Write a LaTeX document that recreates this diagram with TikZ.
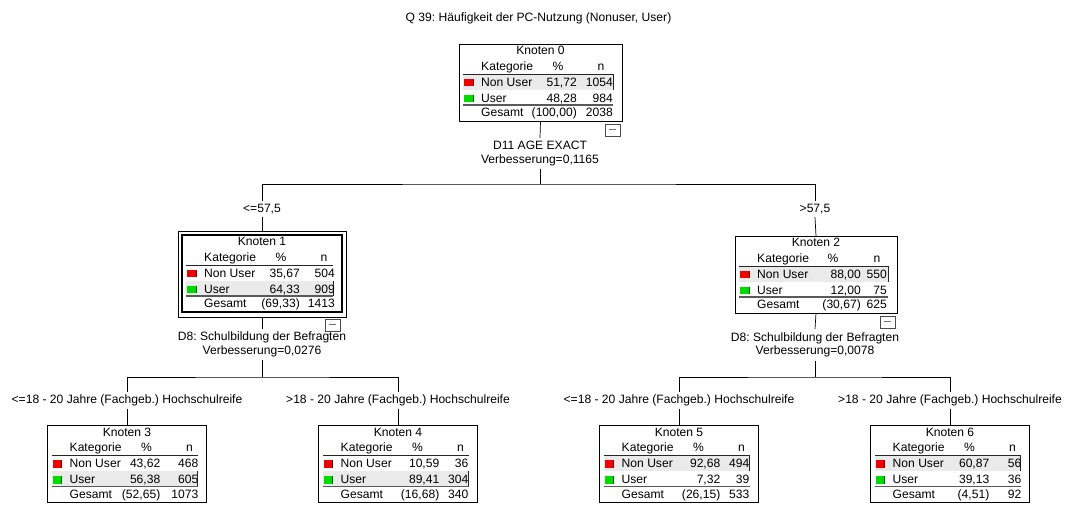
\documentclass[tikz,border=0pt]{standalone}
\usepackage{fontspec}
\setmainfont{Liberation Sans}
\frenchspacing
\definecolor{nured}{RGB}{240,0,0}
\definecolor{ugreen}{RGB}{0,220,0}
\definecolor{rowgray}{RGB}{234,234,234}
\tikzset{
  every node/.style={font=\fontsize{12.1}{13.3}\selectfont\frenchspacing, inner sep=0pt},
  box/.style={draw=black, line width=0.7pt, inner sep=0pt, outer sep=0pt},
  cell/.style={anchor=base west, inner sep=0pt},
  cellr/.style={anchor=base east, inner sep=0pt},
  cellc/.style={anchor=base, inner sep=0pt},
  ruleone/.style={draw=black!85, line width=0.7pt},
  ruletwo/.style={draw=black!65, line width=1.2pt},
  conn/.style={draw=black, line width=0.7pt},
  elabel/.style={anchor=base, text height=8.6pt, text depth=2.5pt, inner sep=2.5pt},
  slabel/.style={align=center, inner sep=3.5pt},
  minusbox/.style={draw=black!70, line width=0.5pt, fill=white, minimum width=15pt, minimum height=12pt, inner sep=0pt, anchor=north east},
}
% #1 left, #2 top, #3 number, #4 NU%, #5 NUn, #6 U%, #7 Un, #8 Ges%, #9 Gesn
\newcommand\knoten[9]{%
  \node[box, minimum width=\kW pt, minimum height=77pt, anchor=north west] (k#3) at (#1,#2) {};
  \ifnum\kS=1
    \fill[rowgray] ({#1+4},{#2+30}) rectangle ({#1+\kW-9},{#2+45.5});
    \draw[ruleone] ({#1+\kW-9},{#2+30}) -- ({#1+\kW-9},{#2+45.5});
  \else
    \fill[rowgray] ({#1+4},{#2+45.5}) rectangle ({#1+\kW-9},{#2+61});
    \draw[ruleone] ({#1+\kW-9},{#2+45.5}) -- ({#1+\kW-9},{#2+61});
  \fi
  \draw[ruleone] ({#1+4},{#2+30}) -- ({#1+\kW-9},{#2+30});
  \draw[ruletwo] ({#1+4},{#2+61}) -- ({#1+\kW-9},{#2+61});
  \fill[nured] ({#1+5},{#2+34.5}) rectangle ({#1+14},{#2+42});
  \draw[red!50!black, line width=0.6pt] ({#1+14},{#2+34.5}) -- ({#1+14},{#2+42});
  \fill[ugreen] ({#1+5},{#2+50.5}) rectangle ({#1+14},{#2+58});
  \draw[green!40!black, line width=0.6pt] ({#1+14},{#2+50.5}) -- ({#1+14},{#2+58});
  \node[cellc] (k#3t) at ({#1+\kW/2},{#2+10.5}) {Knoten #3};
  \node[cell] (k#3h) at ({#1+22},{#2+26}) {Kategorie};
  \node[cellc] (k#3hp) at ({#1+\kHp},{#2+26}) {\%};
  \node[cellc] (k#3hn) at ({#1+142},{#2+26}) {n};
  \node[cell] (k#3a) at ({#1+22},{#2+42.2}) {Non User};
  \node[cellr] (k#3ap) at ({#1+\kP},{#2+42.2}) {#4};
  \node[cellr] (k#3an) at ({#1+\kN},{#2+42.2}) {#5};
  \node[cell] (k#3b) at ({#1+22},{#2+58}) {User};
  \node[cellr] (k#3bp) at ({#1+\kP},{#2+58}) {#6};
  \node[cellr] (k#3bn) at ({#1+\kN},{#2+58}) {#7};
  \node[cell] (k#3g) at ({#1+22},{#2+72.5}) {Gesamt};
  \node[cellr] (k#3gp) at ({#1+\kP},{#2+72.5}) {#8};
  \node[cellr] (k#3gn) at ({#1+\kN},{#2+72.5}) {#9};
  \ifnum\kMinus=1
    \node[minusbox] (k#3m) at ({#1+\kW-2},{#2+\kM}) {};
    \draw[black!55, line width=0.8pt] ({#1+\kW-13},{#2+\kM+6}) -- ({#1+\kW-6},{#2+\kM+6});
  \fi
}
\begin{document}
\begin{tikzpicture}[x=1pt,y=-1pt]
\useasboundingbox (0,0) rectangle (1073,506);
\node[cellc] (ttl) at (538.5,21) {Q 39: Häufigkeit der PC-Nutzung (Nonuser, User)};

% nodes
\def\kMinus{1}\def\kHp{99}
\def\kW{163}\def\kP{118}\def\kN{154}\def\kS{1}\def\kM{79.5}
\knoten{459}{44}{0}{51,72}{1054}{48,28}{984}{(100,00)}{2038}
\node[box, minimum width=168pt, minimum height=86pt, anchor=north west] (k1o) at (178,231) {};
\def\kW{160}\def\kP{118}\def\kN{153}\def\kS{2}\def\kM{83.5}
\knoten{182}{235}{1}{35,67}{504}{64,33}{909}{(69,33)}{1413}
\draw[line width=1.6pt] (k1.north west) rectangle (k1.south east);
\def\kW{162}\def\kP{126}\def\kN{152}\def\kS{1}\def\kM{79.5}\def\kHp{98}
\knoten{735}{236}{2}{88,00}{550}{12,00}{75}{(30,67)}{625}
\def\kMinus{0}\def\kHp{99}\def\kW{159}
\def\kP{113}\def\kN{151}\def\kS{2}
\knoten{47.5}{425.5}{3}{43,62}{468}{56,38}{605}{(52,65)}{1073}
\def\kP{121}\def\kN{150}\def\kS{2}
\knoten{318.5}{425.5}{4}{10,59}{36}{89,41}{304}{(16,68)}{340}
\def\kP{121}\def\kN{150}\def\kS{1}
\knoten{599.5}{425.5}{5}{92,68}{494}{7,32}{39}{(26,15)}{533}
\def\kP{119}\def\kN{151}\def\kS{1}
\knoten{870.5}{425.5}{6}{60,87}{56}{39,13}{36}{(4,51)}{92}

% split labels
\node[slabel] (s0) at (540,153.6) {D11 AGE EXACT\\Verbesserung=0,1165};
\node[slabel] (s1) at (262,344.5) {D8: Schulbildung der Befragten\\Verbesserung=0,0276};
\node[slabel] (s2) at (815,345) {D8: Schulbildung der Befragten\\Verbesserung=0,0078};
\coordinate (h0) at (540,184);
\coordinate (h1) at (262,377);
\coordinate (h2) at (815,377);

% edge labels
\node[elabel] (e1) at (262,212) {<=57,5};
\node[elabel] (e2) at (815,212) {>57,5};
\node[elabel] (e3) at (127,403.3) {<=18 - 20 Jahre (Fachgeb.) Hochschulreife};
\node[elabel] (e4) at (398,403.3) {>18 - 20 Jahre (Fachgeb.) Hochschulreife};
\node[elabel] (e5) at (679,403.3) {<=18 - 20 Jahre (Fachgeb.) Hochschulreife};
\node[elabel] (e6) at (950,403.3) {>18 - 20 Jahre (Fachgeb.) Hochschulreife};

% connectors
\draw[conn] (k0.south) -- (s0.north);
\draw[conn] (s0.south) -- (h0);
\draw[conn] (e1.north) |- (h0) -| (e2.north);
\draw[conn] (e1.south) -- (k1o.north);
\draw[conn] (e2.south) -- (k2.north);

\draw[conn] (k1o.south) -- (s1.north);
\draw[conn] (s1.south) -- (h1);
\draw[conn] (e3.north) |- (h1) -| (e4.north);
\draw[conn] (e3.south) -- (k3.north);
\draw[conn] (e4.south) -- (k4.north);

\draw[conn] (k2.south) -- (s2.north);
\draw[conn] (s2.south) -- (h2);
\draw[conn] (e5.north) |- (h2) -| (e6.north);
\draw[conn] (e5.south) -- (k5.north);
\draw[conn] (e6.south) -- (k6.north);
\end{tikzpicture}
\end{document}
